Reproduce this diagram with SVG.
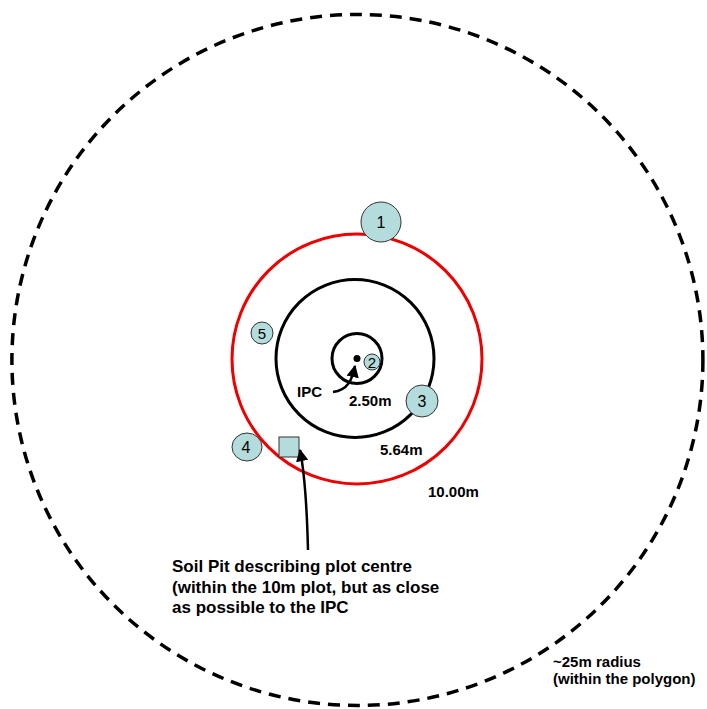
<svg xmlns="http://www.w3.org/2000/svg" width="707" height="709" viewBox="0 0 707 709">
<style>
.lbl{font-family:"Liberation Sans",Arial,sans-serif;font-weight:bold;fill:#000}
.num{font-family:"Liberation Sans",Arial,sans-serif;fill:#000;text-anchor:middle}
.pt{fill:#b4dcdc;stroke:#333;stroke-width:1}
.ring{fill:none;stroke:#000;stroke-width:3}
</style>
<defs>
<marker id="ah" viewBox="0 0 10 10" refX="9" refY="5" markerWidth="5" markerHeight="5" orient="auto-start-reverse" markerUnits="strokeWidth">
<path d="M0,0 L10,5 L0,10 z" fill="#000"/>
</marker>
</defs>
<rect width="707" height="709" fill="#fff"/>
<g id="outer-boundary"><ellipse cx="357.4" cy="360" rx="345.5" ry="345.5" fill="none" stroke="#000" stroke-width="3.5" stroke-dasharray="12 8"/></g>
<g id="plot-10m"><circle cx="357" cy="359" r="125" fill="none" stroke="#e00" stroke-width="3"/></g>
<g id="plot-564"><circle cx="355" cy="358.5" r="79" class="ring"/></g>
<g id="plot-250"><circle cx="357" cy="358.5" r="25" class="ring" stroke-width="2.5"/></g>
<g id="ipc"><circle cx="357" cy="358.5" r="3.5" fill="#000"/></g>
<g id="p1"><circle cx="381" cy="222" r="20" class="pt"/><text x="381" y="228" class="num" font-size="16">1</text></g>
<g id="p2"><circle cx="372" cy="362" r="8" class="pt"/><text x="372" y="367.5" class="num" font-size="15">2</text></g>
<g id="p3"><circle cx="422" cy="401" r="16" class="pt"/><text x="422" y="407" class="num" font-size="16">3</text></g>
<g id="p4"><ellipse cx="247" cy="447" rx="15" ry="14" class="pt"/><text x="246" y="453" class="num" font-size="16">4</text></g>
<g id="p5"><circle cx="262" cy="333" r="11" class="pt"/><text x="262" y="339" class="num" font-size="15">5</text></g>
<g id="soil-pit"><rect x="279" y="437" width="20" height="20" class="pt"/></g>
<g id="connectors" fill="none" stroke="#000" stroke-width="2.5">
<path d="M333,392 C348,390 352,380 355,366" marker-end="url(#ah)"/>
<path d="M308,550 C307,510 305,475 300,450" marker-end="url(#ah)"/>
</g>
<g id="labels" class="lbl">
<text x="297" y="397" font-size="15">IPC</text>
<text x="349" y="405.5" font-size="15">2.50m</text>
<text x="380" y="455" font-size="15">5.64m</text>
<text x="428" y="497" font-size="15">10.00m</text>
<text x="172" y="572" font-size="17">Soil Pit describing plot centre</text>
<text x="172" y="593" font-size="17">(within the 10m plot, but as close</text>
<text x="172" y="613" font-size="17">as possible to the IPC</text>
<text x="553" y="667" font-size="15">~25m radius</text>
<text x="553" y="684" font-size="15">(within the polygon)</text>
</g>
</svg>
